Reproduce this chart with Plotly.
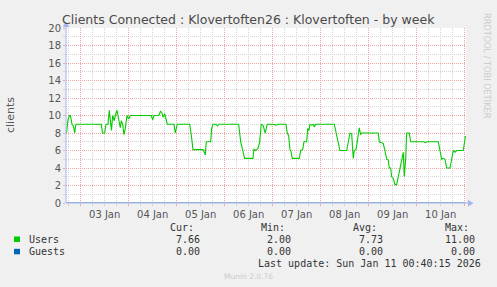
import pandas as pd
import plotly.graph_objects as go

# ---- data (hours relative to 2026-01-03 00:00) ----
user_hours = [-7.1, -6.35, -5.6, -5.1, -4.35, -3.6, -3.0, -2.35, 10.3, 10.9, 12.0, 12.65,
              13.65, 14.3, 14.9, 15.4, 16.0, 16.8, 17.3, 18.15, 19.0, 19.8, 20.3, 21.0,
              21.65, 22.3, 23.15, 24.0, 24.8, 35.3, 36.0, 36.65, 39.15, 39.9, 40.65, 41.15,
              42.0, 42.65, 43.3, 46.65, 47.3, 48.3, 54.5, 55.3, 56.15, 61.15, 61.65, 62.3,
              62.8, 65.0, 65.5, 66.15, 67.65, 68.4, 69.15, 79.0, 80.0, 81.15, 82.0, 86.15,
              86.65, 87.3, 87.8, 88.65, 89.5, 90.3, 91.15, 92.3, 93.3, 94.65, 96.15, 97.65,
              98.65, 102.65, 103.3, 104.0, 104.65, 105.15, 105.8, 109.3, 110.0, 111.0,
              111.65, 113.0, 113.5, 114.15, 114.65, 115.5, 116.3, 116.8, 117.5, 126.8,
              127.65, 128.5, 129.65, 133.0, 133.8, 134.65, 135.5, 136.0, 136.3, 136.8,
              137.65, 138.3, 139.0, 139.3, 140.0, 140.5, 148.8, 149.3, 150.5, 151.3, 152.15,
              153.0, 153.8, 154.3, 155.0, 155.5, 156.3, 157.15, 158.0, 158.8, 159.65, 160.5,
              161.3, 161.8, 162.5, 163.0, 164.3, 165.0, 171.65, 172.3, 173.15, 178.8, 179.65,
              180.5, 181.3, 182.15, 183.0, 184.65, 185.5, 186.3, 187.15, 188.0, 191.3, 192.4]
user_values = [8.0, 9.5, 10, 10, 9, 8.8, 8, 9, 9, 8, 8, 9,
               9, 10.6, 9.3, 8.3, 10, 9.4, 10, 10.6, 9.6, 8.6, 9.4, 9,
               7.8, 8.5, 10, 9.6, 10, 10, 9.5, 10, 10, 10.5, 10.3, 9.8,
               10.2, 9.6, 9, 9, 8, 9, 9, 7.8, 6.1, 6.1, 5.9, 5.5,
               7, 7, 8.5, 9, 9, 8.8, 9, 9, 7, 6, 5.1, 5.1,
               6.2, 6, 6.1, 6.2, 7, 9, 8.9, 8, 9, 9, 9, 8.9,
               9, 9, 8, 7.7, 6.1, 5.9, 5.1, 5.1, 6, 6.1,
               7, 7, 8.5, 8.3, 9, 8.9, 9, 8.7, 9, 9,
               8, 7, 6, 6, 7, 8, 7.9, 6, 5.1, 6,
               6.1, 7, 8.5, 8.6, 7.8, 8, 8, 7, 6.9, 6.8, 6,
               5, 4.9, 4, 4, 3, 2.8, 2.1, 2.1, 3, 4, 5,
               5.8, 3, 5, 8, 8, 7, 7, 6.9, 7, 7, 6,
               5, 5.1, 5, 4, 4, 5, 6, 5.8, 6, 6, 7.66]
guest_hours = [-7.3, 192.6]
guest_values = [0.0, 0.0]

series_names = ["Users", "Guests"]
series_colors = ["#00cc00", "#0066b3"]
stat_headers = ["Cur:", "Min:", "Avg:", "Max:"]
stat_users = ["7.66", "2.00", "7.73", "11.00"]
stat_guests = ["0.00", "0.00", "0.00", "0.00"]

title = "Clients Connected : Klovertoften26 : Klovertoften - by week"
y_title = "clients"
last_update = "Last update: Sun Jan 11 00:40:15 2026"
footer = "Munin 2.0.76"
side_text = "RRDTOOL / TOBI OETIKER"

base = pd.Timestamp("2026-01-03 00:00")
x_start = pd.Timestamp("2026-01-02 16:40")
x_end = pd.Timestamp("2026-01-11 00:40")

W, H = 497, 287
L, R, T, B = 66, 31, 28, 84
PW, PH = W - L - R, H - T - B


def px(x):
    return (x - L) / PW


def py(y):
    return (H - B - y) / PH


ut = [base + pd.Timedelta(hours=h) for h in user_hours]
gt = [base + pd.Timedelta(hours=h) for h in guest_hours]

fig = go.Figure()
fig.add_trace(go.Scatter(x=gt, y=guest_values, mode="lines",
                         line=dict(color=series_colors[1], width=1), cliponaxis=True))
fig.add_trace(go.Scatter(x=ut, y=user_values, mode="lines",
                         line=dict(color=series_colors[0], width=1.1)))

red = "#f2a3a3"
gray = "#d4d4d4"
axis_blue = "#a8b4ec"
sans = "DejaVu Sans"
mono = "DejaVu Sans Mono"

fig.update_layout(
    width=W, height=H, margin=dict(l=L, r=R, t=T, b=B),
    paper_bgcolor="#f0f0f0", plot_bgcolor="#ffffff",
    showlegend=False,
    xaxis=dict(type="date", range=[x_start, x_end], tick0="2026-01-03", dtick=86400000,
               ticklabelmode="period", tickformat="%d %b",
               showgrid=True, gridcolor=red, griddash="1px,1px", gridwidth=1,
               ticks="outside", ticklen=2, tickcolor=red,
               tickfont=dict(family=sans, size=10, color="#555555"),
               minor=dict(dtick=21600000, showgrid=True, gridcolor=gray, griddash="1px,1px",
                          ticks="outside", ticklen=2, tickcolor=gray),
               zeroline=False, showline=False, fixedrange=True),
    yaxis=dict(range=[0, 20], dtick=2, tick0=0,
               showgrid=True, gridcolor=red, griddash="1px,1px", gridwidth=1,
               ticks="outside", ticklen=2, tickcolor=red,
               tickfont=dict(family=sans, size=10, color="#555555"),
               minor=dict(dtick=1, showgrid=True, gridcolor=gray, griddash="1px,1px",
                          ticks="outside", ticklen=2, tickcolor=gray),
               zeroline=False, showline=False, fixedrange=True),
)

shapes = []
# axis lines with arrows
shapes.append(dict(type="line", xref="paper", yref="paper", x0=px(66), x1=px(469),
                   y0=0, y1=0, line=dict(color=axis_blue, width=1), layer="above"))
shapes.append(dict(type="line", xref="paper", yref="paper", x0=0, x1=0,
                   y0=0, y1=py(24), line=dict(color=axis_blue, width=1), layer="above"))
shapes.append(dict(type="path", xref="paper", yref="paper",
                   path=f"M {px(468)} {py(200)} L {px(473.5)} {py(203.3)} L {px(468)} {py(206.6)} Z",
                   fillcolor=axis_blue, line=dict(width=0), layer="above"))
shapes.append(dict(type="path", xref="paper", yref="paper",
                   path=f"M {px(62.7)} {py(27)} L {px(66)} {py(21.5)} L {px(69.3)} {py(27)} Z",
                   fillcolor=axis_blue, line=dict(width=0), layer="above"))
# legend squares
for i, c in enumerate(series_colors):
    y0 = 236.5 + i * 12.3
    shapes.append(dict(type="rect", xref="paper", yref="paper", x0=px(14), x1=px(20),
                       y0=py(y0), y1=py(y0 + 5.5), fillcolor=c, line=dict(width=0)))
fig.update_layout(shapes=shapes)

ann = []


def text(x, y, s, size=10, family=mono, color="#333333", xanchor="left", angle=0):
    ann.append(dict(x=px(x), y=py(y), xref="paper", yref="paper", text=s, showarrow=False,
                    xanchor=xanchor, yanchor="middle", textangle=angle,
                    font=dict(family=family, size=size, color=color)))


text(248.5, 19.3, title, size=12.5, family=sans, color="#4a4a4a", xanchor="center")
text(10, 115, y_title, size=11, family=sans, color="#555555", xanchor="center", angle=-90)
text(487, 66, side_text, size=8.2, family=sans, color="#cccccc", xanchor="center", angle=90)

col_right = [201.7, 293, 385, 477]
for i, hdr in enumerate(stat_headers):
    text(col_right[i] - 6, 227.7, hdr, xanchor="right")
    text(col_right[i], 239.5, stat_users[i], xanchor="right")
    text(col_right[i], 251.5, stat_guests[i], xanchor="right")
text(26.5, 239.5, series_names[0])
text(26.5, 251.5, series_names[1])
text(483, 263.7, last_update, xanchor="right")
text(248.5, 276, footer, size=7.5, family=sans, color="#cccccc", xanchor="center")
fig.update_layout(annotations=ann)

fig.write_html("out.html")
